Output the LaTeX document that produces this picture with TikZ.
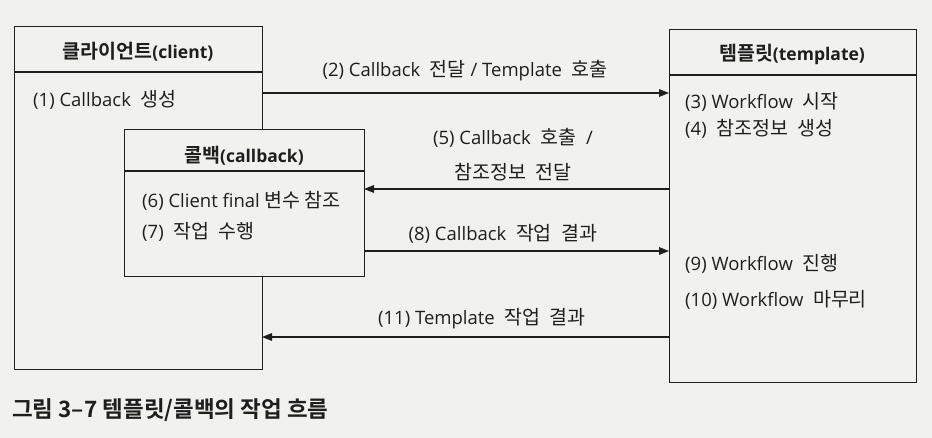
\documentclass[tikz,border=0pt]{standalone}
\usepackage{fontspec}
\setmainfont{Open Sans}
\newfontfamily\kr{Noto Sans CJK KR}[BoldFont={Noto Sans CJK KR Bold}]
\usetikzlibrary{arrows.meta}
\definecolor{bg}{RGB}{241,241,239}
\definecolor{ink}{RGB}{30,30,30}
\newcommand{\K}[1]{{\kr\fontsize{19.5}{20}\selectfont #1}}
\tikzset{
  box/.style={draw=ink, line width=1.4pt, fill=bg, anchor=north west, inner sep=0pt},
  hdr/.style={draw=ink, line width=1.4pt},
  ttl/.style={font=\bfseries\fontsize{17.5}{18}\selectfont, text=ink, anchor=center},
  itm/.style={font=\fontsize{18.5}{20}\selectfont, text=ink, anchor=west, inner sep=0pt},
  lbl/.style={font=\fontsize{18.5}{20}\selectfont, text=ink, anchor=center, inner sep=0pt},
  arr/.style={draw=ink, line width=1.4pt, -{Triangle[length=10pt,width=7.5pt]}},
}
\begin{document}
\begin{tikzpicture}[x=1pt,y=-1pt]
\fill[bg] (0,0) rectangle (932,438);
\useasboundingbox (0,0) rectangle (932,438);
% client
\node[box, minimum width=248pt, minimum height=343pt] (client) at (14,26) {};
\coordinate (chl) at (14,72); \coordinate (chr) at (262,72);
\draw[hdr] (chl) -- (chr);
\node[ttl] (ctitle) at (138,52) {\K{클라이언트}(client)};
\node[itm] (c1) at (33,100) {(1) Callback\ \ \K{생성}};
% template
\node[box, minimum width=247pt, minimum height=353pt] (tmpl) at (669,29) {};
\coordinate (thl) at (669,75); \coordinate (thr) at (916,75);
\draw[hdr] (thl) -- (thr);
\node[ttl] (ttitle) at (792,54) {\K{템플릿}(template)};
\node[itm] (t3) at (685,102) {(3) Workflow\ \ \K{시작}};
\node[itm] (t4) at (685,129) {(4)\ \ \K{참조정보}\ \ \K{생성}};
\node[itm] (t9) at (685,264) {(9) Workflow\ \ \K{진행}};
\node[itm] (t10) at (685,300) {(10) Workflow\ \ \K{마무리}};
% callback
\node[box, minimum width=240pt, minimum height=147pt] (cb) at (124,129) {};
\coordinate (bhl) at (124,171); \coordinate (bhr) at (364,171);
\draw[hdr] (bhl) -- (bhr);
\node[ttl] (btitle) at (244,156) {\K{콜백}(callback)};
\node[itm] (b6) at (142,201) {(6) Client final \K{변수 참조}};
\node[itm] (b7) at (142,232) {(7)\ \ \K{작업}\ \ \K{수행}};
% arrows
\coordinate (a2s) at (262,93); \coordinate (a2e) at (669,93);
\draw[arr] (a2s) -- (a2e);
\node[lbl] (l2) at (465,71) {(2) Callback\ \ \K{전달} / Template\ \ \K{호출}};
\coordinate (a5s) at (669,189); \coordinate (a5e) at (364,189);
\draw[arr] (a5s) -- (a5e);
\node[lbl] (l5a) at (513,138) {(5) Callback\ \ \K{호출}\ \ /};
\node[lbl] (l5b) at (513,172) {\K{참조정보}\ \ \K{전달}};
\coordinate (a8s) at (364,251); \coordinate (a8e) at (669,251);
\draw[arr] (a8s) -- (a8e);
\node[lbl] (l8) at (503,234) {(8) Callback\ \ \K{작업}\ \ \K{결과}};
\coordinate (a11s) at (669,337); \coordinate (a11e) at (262,337);
\draw[arr] (a11s) -- (a11e);
\node[lbl] (l11) at (482,319) {(11) Template\ \ \K{작업}\ \ \K{결과}};
% caption
\node[font=\kr\bfseries\fontsize{22.5}{24}\selectfont, text=ink, anchor=west, inner sep=0pt] (cap) at (12,410) {그림 3–7 템플릿/콜백의 작업 흐름};
\end{tikzpicture}
\end{document}
